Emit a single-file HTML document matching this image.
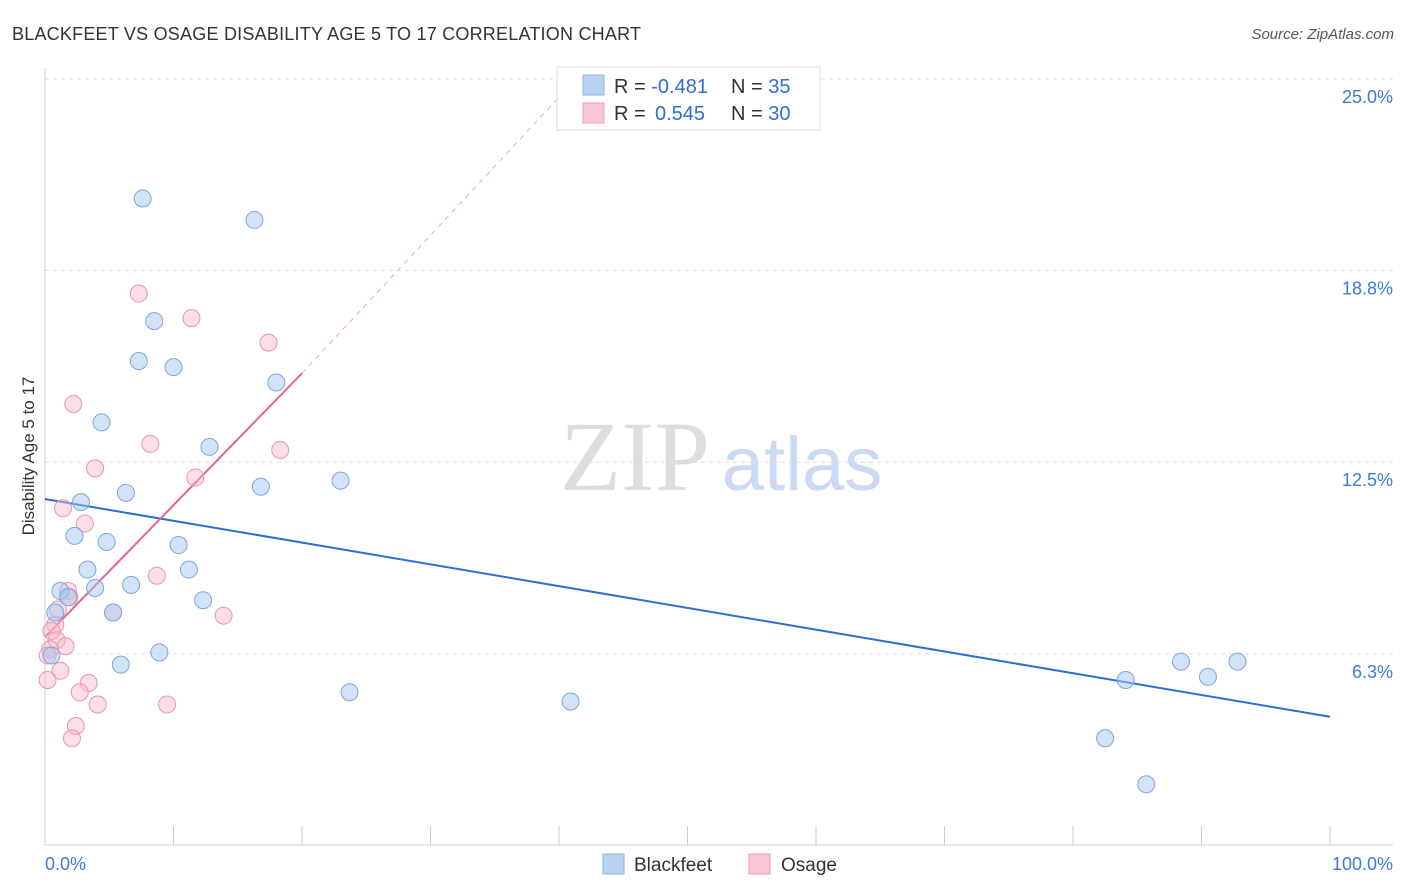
<!DOCTYPE html>
<html><head><meta charset="utf-8"><style>
body{margin:0;background:#fff;font-family:"Liberation Sans",sans-serif;}
svg{display:block}
</style></head><body>
<svg id="chart" width="1406" height="892">
<text x="12" y="40" font-size="18" fill="#333" textLength="629">BLACKFEET VS OSAGE DISABILITY AGE 5 TO 17 CORRELATION CHART</text>
<text x="1394" y="39" font-size="15" fill="#555" font-style="italic" text-anchor="end">Source: ZipAtlas.com</text>
<text transform="translate(34,456) rotate(-90)" font-size="17" fill="#333" text-anchor="middle">Disability Age 5 to 17</text>
<g><text x="635" y="490" font-size="100" fill="#ddd" font-family="Liberation Serif,serif" text-anchor="middle">ZIP</text><text x="802" y="490" font-size="76" fill="#c9daf2" text-anchor="middle">atlas</text></g>
<g id="grid"></g><g id="axes"></g><g id="lines"></g><g id="pts"></g>
<g>
<rect x="557" y="67" width="263" height="63" fill="#fff" stroke="#ddd"/>
<rect x="583" y="75" width="21" height="20" fill="#b9d2f3" stroke="#8db3e6"/>
<rect x="583" y="103" width="21" height="20" fill="#f9c6d4" stroke="#eb9db4"/>
<text x="614" y="93" font-size="20" fill="#333">R = <tspan fill="#2f6fd0">-0.481</tspan><tspan x="731">N = </tspan><tspan fill="#2f6fd0">35</tspan></text>
<text x="614" y="120" font-size="20" fill="#333">R = <tspan x="655" fill="#2f6fd0">0.545</tspan><tspan x="731">N = </tspan><tspan fill="#2f6fd0">30</tspan></text>
</g>
<g>
<rect x="603" y="854" width="21" height="20" fill="#b9d2f3" stroke="#8db3e6"/>
<text x="634" y="871" font-size="19" fill="#333">Blackfeet</text>
<rect x="749" y="854" width="21" height="20" fill="#f9c6d4" stroke="#eb9db4"/>
<text x="781" y="871" font-size="19" fill="#333">Osage</text>
</g>
</svg>
<script>
const yTicks=[25.0,18.8,12.5,6.3];
const yTickVals=[25,18.75,12.5,6.25];
const xTickLabels=["0.0%","100.0%"];
const bfX=[7.6,16.3,8.5,7.3,10.0,18.0,4.4,12.8,6.3,16.8,23.0,2.8,2.3,4.8,10.4,3.3,11.2,6.7,3.9,1.2,1.8,12.3,0.8,5.3,8.9,5.9,23.7,40.9,84.1,88.4,90.5,92.8,82.5,85.7,0.5];
const bfY=[21.1,20.4,17.1,15.8,15.6,15.1,13.8,13.0,11.5,11.7,11.9,11.2,10.1,9.9,9.8,9.0,9.0,8.5,8.4,8.3,8.1,8.0,7.6,7.6,6.3,5.9,5.0,4.7,5.4,6.0,5.5,6.0,3.5,2.0,6.2];
const osX=[7.3,11.4,17.4,2.2,8.2,18.3,3.9,11.7,1.4,3.1,8.7,1.8,1.9,5.3,13.9,0.8,0.9,1.6,0.4,0.2,1.2,0.2,3.4,2.7,4.1,9.5,2.4,2.1,1.0,0.5];
const osY=[18.0,17.2,16.4,14.4,13.1,12.9,12.3,12.0,11.0,10.5,8.8,8.3,8.1,7.6,7.5,7.2,6.7,6.5,6.4,6.2,5.7,5.4,5.3,5.0,4.6,4.6,3.9,3.5,7.7,7.0];
const bfTrend=[11.3,4.2];
const osTrend=[6.8,15.4,24.4];
const osTrendX=[0,20,40];
const X=v=>45+v*12.85, Y=v=>845.6-v*30.67;
const NS="http://www.w3.org/2000/svg";
function mk(tag,attrs,parent){const e=document.createElementNS(NS,tag);for(const k in attrs)e.setAttribute(k,attrs[k]);parent.appendChild(e);return e;}
const grid=document.getElementById('grid'),axes=document.getElementById('axes'),lines=document.getElementById('lines'),pts=document.getElementById('pts');
yTickVals.forEach((v,i)=>{
 const l=mk('line',{x1:45,x2:1393,y1:Y(v),y2:Y(v),stroke:'#ddd','stroke-dasharray':'4,4'},grid);
 
 
 const t=mk('text',{x:1393,y:Y(v)+24,'font-size':18,fill:'#3d7bd9','text-anchor':'end'},grid);
 t.textContent=yTicks[i].toFixed(1)+'%';
 
 
});
const ax=mk('line',{x1:45,x2:1393,y1:845,y2:845,stroke:'#ccc'},axes);


const ay=mk('line',{x1:45,x2:45,y1:68,y2:845,stroke:'#ccc'},axes);


for(let i=0;i<=10;i++){const t=mk('line',{x1:X(i*10),x2:X(i*10),y1:826,y2:845,stroke:'#ccc'},axes);
 
 }
[[0,'start',45],[100,'end',1393]].forEach((a,i)=>{const t=mk('text',{x:a[2],y:870,'font-size':18,fill:'#3d7bd9','text-anchor':a[1]},axes);t.textContent=xTickLabels[i];
 
 });
const bl=mk('line',{x1:X(0),y1:Y(bfTrend[0]),x2:X(100),y2:Y(bfTrend[1]),stroke:'#2a6fd6','stroke-width':2},lines);


const pl=mk('line',{x1:X(osTrendX[0]),y1:Y(osTrend[0]),x2:X(osTrendX[1]),y2:Y(osTrend[1]),stroke:'#e8638a','stroke-width':2},lines);


const pd=mk('line',{x1:X(osTrendX[1]),y1:Y(osTrend[1]),x2:X(osTrendX[2]),y2:Y(osTrend[2]),stroke:'#f0a8bc','stroke-width':1,'stroke-dasharray':'5,5'},lines);


osX.forEach((x,i)=>{const c=mk('circle',{cx:X(x),cy:Y(osY[i]),r:8.5,fill:'rgba(246,182,200,0.45)',stroke:'#ea95ae','stroke-width':1},pts);
 
 });
bfX.forEach((x,i)=>{const c=mk('circle',{cx:X(x),cy:Y(bfY[i]),r:8.5,fill:'rgba(166,199,240,0.5)',stroke:'#7aa7e0','stroke-width':1},pts);
 
 });
</script>
</body></html>
